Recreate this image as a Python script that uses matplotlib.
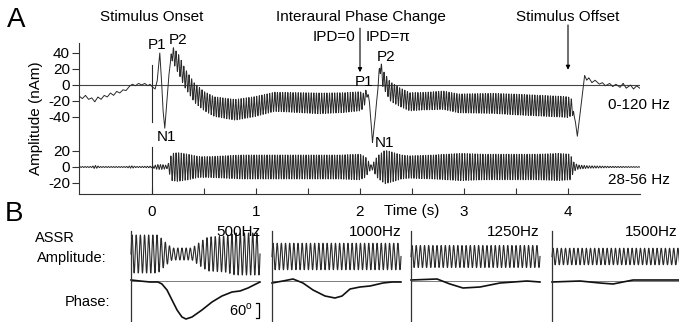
import numpy as np
import matplotlib
matplotlib.use('Agg')
import matplotlib.pyplot as plt

plt.rcParams['font.family'] = ['Liberation Sans', 'DejaVu Sans']
plt.rcParams['mathtext.fontset'] = 'custom'
plt.rcParams['mathtext.rm'] = 'Liberation Sans'

# ---------------- Panel A data ----------------
ASSR_FREQ = 40.0          # Hz, steady-state carrier
BOT_OFFSET = -102.5       # vertical offset of the 28-56 Hz trace (nAm)

# slow component of the 0-120 Hz trace: time (s), value (nAm)
slow_t = [-0.70, -0.67, -0.64, -0.61, -0.58, -0.55, -0.52, -0.49, -0.46, -0.43,
          -0.40, -0.37, -0.34, -0.31, -0.28, -0.25, -0.22, -0.19, -0.16, -0.13,
          -0.10, -0.07, -0.04, -0.02, 0.00, 0.03, 0.05, 0.075, 0.09, 0.105,
          0.123, 0.14, 0.16, 0.19, 0.22, 0.26, 0.315, 0.36, 0.41, 0.50,
          0.60, 0.80, 0.99, 1.18, 1.40, 1.62, 1.85, 2.03, 2.07, 2.09,
          2.12, 2.15, 2.175, 2.19, 2.22, 2.29, 2.38, 2.48, 2.65, 2.80,
          2.95, 3.28, 3.60, 3.92, 4.04, 4.07, 4.09, 4.13, 4.16, 4.18,
          4.20, 4.23, 4.26, 4.30, 4.33, 4.36, 4.40, 4.43, 4.46, 4.50,
          4.53, 4.56, 4.60, 4.63, 4.66, 4.69]
slow_v = [-14, -17, -13, -18, -16, -21, -15, -18, -13, -15,
          -10, -13, -8, -10, -6, -7, -2, 1, -1, 2,
          0, 2, -1, 1, -2, -5, 5, 40, 10, -30,
          -54, -25, 10, 40, 34, 25, 9, 0, -10, -20,
          -27, -31, -27, -21, -22, -23, -22, -20, -10, -20,
          -71, -35, 0, 25, 8, -8, -15, -21, -20, -19,
          -23, -23, -25, -27, -28, -45, -64, -20, 12, 6,
          9, 3, 6, 1, 3, -1, 2, -2, 1, -3,
          2, -4, 0, -5, -1, -4]

# 40-Hz half-amplitude of the 0-120 Hz trace
top_amp_t = [-0.70, 0.17, 0.19, 0.25, 0.50, 0.80, 1.20, 1.60, 2.00, 2.05,
             2.09, 2.17, 2.20, 2.30, 2.60, 3.00, 3.50, 4.00, 4.04, 4.06, 4.69]
top_amp_v = [0, 0, 9, 12, 12, 13, 12, 13, 12, 8,
             1, 1, 10, 12, 11, 12, 13, 13, 10, 0, 0]

# envelope of the 28-56 Hz trace
bot_amp_t = [-0.70, -0.58, -0.55, -0.50, -0.25, -0.20, -0.15, 0.00, 0.05, 0.10,
             0.15, 0.19, 0.25, 0.35, 0.45, 0.55, 0.70, 0.86, 1.20, 1.50,
             1.80, 2.00, 2.05, 2.11, 2.17, 2.24, 2.30, 2.40, 2.48, 2.70,
             2.96, 3.20, 3.44, 3.70, 3.92, 4.02, 4.06, 4.10, 4.20, 4.40, 4.69]
bot_amp_v = [0.6, 0.6, 2.0, 0.6, 0.6, 1.5, 0.6, 1.0, 3.0, 3.0,
             2.0, 17, 18, 16, 13, 13, 14, 15, 15, 15,
             15, 16, 13, 2, 14, 21, 19, 15, 14, 15,
             17, 16, 16, 16, 17, 16, 5, 2.5, 1.5, 0.8, 0.4]

ytick_vals = [40, 20, 0, -20, -40, 20 + BOT_OFFSET, BOT_OFFSET, -20 + BOT_OFFSET]
ytick_labels = ['40', '20', '0', '-20', '-40', '20', '0', '-20']
xtick_vals = [0, 0.5, 1, 1.5, 2, 2.5, 3, 3.5, 4]
xtick_labels = ['0', '', '1', '', '2', '', '3', '', '4']

# ---------------- Panel B data ----------------
b_names = ['500Hz', '1000Hz', '1250Hz', '1500Hz']
B_CYCLES = 31
# ASSR amplitude envelope (normalised time, half amplitude)
b_env_u = [[0, .209, .264, .318, .473, .535, .597, .729, .806, 1.0],
           [0, 1.0], [0, 1.0], [0, 1.0]]
b_env_v = [[76, 76, 48, 24, 24, 48, 68, 72, 84, 84],
           [53, 53], [44, 44], [33, 33]]
b_center = [108, 98, 98, 98]
# phase (degrees)
b_ph_u = [[0, .070, .147, .209, .240, .279, .318, .357, .395, .426, .473, .550,
           .628, .705, .783, .845, .907, .953, 1.0],
          [0, .085, .163, .240, .318, .411, .488, .543, .605, .682, .760, .860, .930, 1.0],
          [0, .202, .302, .403, .535, .690, .899, 1.0],
          [0, .217, .372, .473, .628, .837, 1.0]]
b_ph_v = [[4, 0, -4, -4, -12, -36, -76, -116, -144, -152, -144, -116,
           -84, -60, -44, -40, -28, -16, -4],
          [-8, 0, 8, -8, -36, -60, -68, -60, -32, -24, -20, -8, -4, -4],
          [4, 8, -12, -28, -24, -8, 0, -4],
          [-4, 0, -8, -12, 4, 4, 4]]
b_label_x = [1.0, 1.0, 1.0, 0.975]

# ---------------- figure ----------------
W, H = 679, 322
fig = plt.figure(figsize=(W / 100, H / 100), dpi=100)

def fx(px):
    return px / W

def fy(py):
    return 1 - py / H

TRACE = '#2a2a2a'
fs = 11

ax = fig.add_axes([fx(79), fy(194), fx(640) - fx(79), fy(43) - fy(194)])
ax.set_xlim(-0.7019, 4.6923)
ax.set_ylim(-136.25, 52.5)
for s in ['top', 'right']:
    ax.spines[s].set_visible(False)
for s in ['left', 'bottom']:
    ax.spines[s].set_linewidth(0.8)
    ax.spines[s].set_color('#333333')

t = np.arange(-0.70, 4.69, 0.0005)
carrier = np.sin(2 * np.pi * ASSR_FREQ * t)
top = np.interp(t, slow_t, slow_v) + np.interp(t, top_amp_t, top_amp_v) * carrier
bot = BOT_OFFSET + np.interp(t, bot_amp_t, bot_amp_v) * carrier

ax.axhline(0, color='#444444', lw=0.8, zorder=1)
ax.plot(t, top, color=TRACE, lw=0.7, zorder=3)
ax.plot(t, bot, color=TRACE, lw=0.7, zorder=3)
ax.plot([0, 0], [25, -46], color=TRACE, lw=0.8)
ax.plot([0, 0], [-77.5, -136.25], color=TRACE, lw=0.8)

ax.set_xticks(xtick_vals)
ax.set_xticklabels(xtick_labels)
ax.set_yticks(ytick_vals)
ax.set_yticklabels(ytick_labels)
ax.tick_params(axis='x', direction='in', length=4, width=0.8, pad=8,
               labelsize=11, color='#333333')
ax.tick_params(axis='y', direction='out', length=5, width=0.8, pad=1.5,
               labelsize=11, color='#333333')

ax.text(0, 85, 'Stimulus Onset', ha='center', va='center', fontsize=fs)
ax.annotate('', xy=(0, 61), xytext=(0, 75),
            arrowprops=dict(arrowstyle='-|>', lw=0.8, color='black',
                            mutation_scale=6, shrinkA=0, shrinkB=0))
ax.text(0.045, 50, 'P1', ha='center', va='center', fontsize=fs)
ax.text(0.25, 56, 'P2', ha='center', va='center', fontsize=fs)
ax.text(0.144, -65, 'N1', ha='center', va='center', fontsize=fs)

ax.text(2.01, 85, 'Interaural Phase Change', ha='center', va='center', fontsize=fs)
ax.text(1.952, 60, 'IPD=0', ha='right', va='center', fontsize=fs)
ax.text(2.058, 60, 'IPD=\u03c0', ha='left', va='center', fontsize=fs)
ax.annotate('', xy=(2.0, 16), xytext=(2.0, 71),
            arrowprops=dict(arrowstyle='-|>', lw=0.8, color='black',
                            mutation_scale=6, shrinkA=0, shrinkB=0))
ax.text(2.043, 4, 'P1', ha='center', va='center', fontsize=fs)
ax.text(2.25, 35, 'P2', ha='center', va='center', fontsize=fs)
ax.text(2.24, -72.5, 'N1', ha='center', va='center', fontsize=fs)

ax.text(3.995, 85, 'Stimulus Offset', ha='center', va='center', fontsize=fs)
ax.annotate('', xy=(4.0, 19), xytext=(4.0, 75),
            arrowprops=dict(arrowstyle='-|>', lw=0.8, color='black',
                            mutation_scale=6, shrinkA=0, shrinkB=0))
ax.text(4.98, -25, '0-120 Hz', ha='right', va='center', fontsize=fs)
ax.text(4.98, -118.75, '28-56 Hz', ha='right', va='center', fontsize=fs)

fig.text(fx(36), fy(118), 'Amplitude (nAm)', rotation=90, ha='center',
         va='center', fontsize=11)
fig.text(fx(411.5), fy(211), 'Time (s)', ha='center', va='center', fontsize=11)
fig.text(fx(16), fy(20), 'A', ha='center', va='center', fontsize=20)
fig.text(fx(14), fy(214), 'B', ha='center', va='center', fontsize=20)

# ---------------- Panel B ----------------
fig.text(fx(35), fy(238), 'ASSR', ha='left', va='center', fontsize=10.5)
fig.text(fx(37), fy(258), 'Amplitude:', ha='left', va='center', fontsize=10.5)
fig.text(fx(110), fy(302), 'Phase:', ha='right', va='center', fontsize=10.5)

lefts = [131, 272, 411, 552]
u = np.linspace(0, 1, 3000)
for i, L in enumerate(lefts):
    bx = fig.add_axes([fx(L), 0, 129 / W, 91 / H])
    bx.set_xlim(0, 1)
    bx.set_ylim(-164, 200)
    for s in ['top', 'right', 'bottom']:
        bx.spines[s].set_visible(False)
    bx.spines['left'].set_linewidth(0.9)
    bx.spines['left'].set_color('#333333')
    bx.set_xticks([])
    bx.set_yticks([])
    bx.patch.set_alpha(0)
    env = np.interp(u, b_env_u[i], b_env_v[i])
    bx.plot(u, b_center[i] + env * np.sin(2 * np.pi * B_CYCLES * u),
            color=TRACE, lw=0.8, clip_on=False)
    bx.axhline(0, color='#666666', lw=0.6)
    bx.plot(b_ph_u[i], b_ph_v[i], color='#111111', lw=1.2, clip_on=False)
    bx.text(b_label_x[i], 196, b_names[i], ha='right', va='center', fontsize=11)
    if i == 0:
        bx.plot([0.969, 0.996, 0.996, 0.969], [-88, -88, -148, -148],
                color='black', lw=0.9, clip_on=False)
        bx.text(0.946, -118, r'60$^{\mathrm{o}}$', ha='right', va='center',
                fontsize=10.5)

fig.savefig('out.png', dpi=100)
